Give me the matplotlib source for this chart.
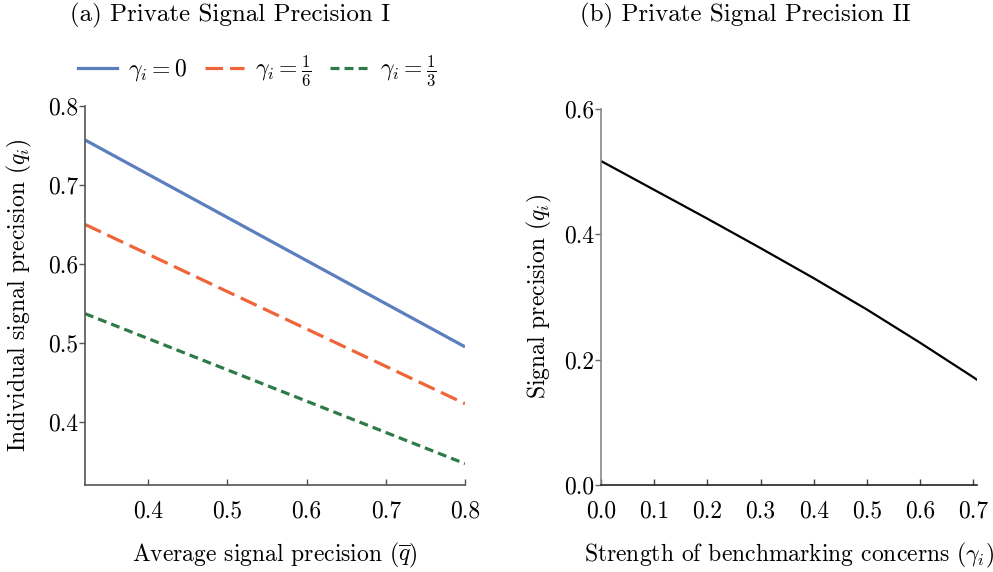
import matplotlib
matplotlib.use("Agg")
import matplotlib.pyplot as plt
from matplotlib.lines import Line2D

plt.rcParams['font.family'] = ['cmr10', 'DejaVu Serif']
plt.rcParams['mathtext.fontset'] = 'cm'
plt.rcParams['axes.formatter.use_mathtext'] = True
plt.rcParams['axes.unicode_minus'] = False

# ---- data panel (a) ----
qbar = [0.32, 0.80]
q_gamma0 = [0.757, 0.495]
q_gamma16 = [0.650, 0.423]
q_gamma13 = [0.537, 0.347]
labels_a = [r'$\gamma_i=0$', r'$\gamma_i=\frac{1}{6}$', r'$\gamma_i=\frac{1}{3}$']

# ---- data panel (b) ----
gamma = [0.0, 0.1, 0.2, 0.3, 0.4, 0.5, 0.6, 0.7, 0.707]
q_b = [0.517, 0.471, 0.425, 0.378, 0.330, 0.280, 0.227, 0.172, 0.168]

xticks_a = [0.4, 0.5, 0.6, 0.7, 0.8]
yticks_a = [0.4, 0.5, 0.6, 0.7, 0.8]
xticks_b = [0.0, 0.1, 0.2, 0.3, 0.4, 0.5, 0.6, 0.7]
yticks_b = [0.0, 0.2, 0.4, 0.6]

W, H = 993, 572
fig = plt.figure(figsize=(W / 100, H / 100), dpi=100)

FS = 17
blue = '#5b7fbe'
orange = '#f0643a'
green = '#2e7b48'

ax1 = fig.add_axes([85 / W, 1 - 485 / H, 380 / W, 379 / H])
ax1.plot(qbar, q_gamma0, color=blue, lw=2.3, solid_capstyle='butt')
ax1.plot(qbar, q_gamma16, color=orange, lw=2.3, dashes=(5.5, 2.2))
ax1.plot(qbar, q_gamma13, color=green, lw=2.3, dashes=(2.8, 1.6))
ax1.set_xlim(0.32, 0.80)
ax1.set_ylim(0.32, 0.80)
ax1.set_xticks(xticks_a)
ax1.set_yticks(yticks_a)
ax1.set_xticklabels([f'{v:.1f}' for v in xticks_a])
ax1.set_yticklabels([f'{v:.1f}' for v in yticks_a])
for s in ['top', 'right']:
    ax1.spines[s].set_visible(False)
for s in ['left', 'bottom']:
    ax1.spines[s].set_color('#555555')
    ax1.spines[s].set_linewidth(1.2)
ax1.tick_params(axis='x', direction='in', length=4, width=1, color='#555555', pad=11, labelsize=FS)
ax1.tick_params(axis='y', direction='out', length=4, width=1, color='#555555', pad=1, labelsize=FS)
ax1.set_xlabel(r'Average signal precision ($\overline{q}$)', fontsize=FS)
ax1.set_ylabel(r'Individual signal precision ($q_i$)', fontsize=FS)
ax1.xaxis.set_label_coords(0.5, -0.148)
ax1.yaxis.set_label_coords(-0.134, 0.5)

handles = [Line2D([], [], color=blue, lw=2.3),
           Line2D([], [], color=orange, lw=2.3, dashes=(5.5, 2.2)),
           Line2D([], [], color=green, lw=2.3, dashes=(2.8, 1.6))]
fig.legend(handles, labels_a, loc='center', bbox_to_anchor=(257 / W, 1 - 71 / H),
           ncol=3, frameon=False, fontsize=FS, handlelength=1.65, columnspacing=0.8,
           handletextpad=0.45)

ax2 = fig.add_axes([601 / W, 1 - 485 / H, 376 / W, 376 / H])
ax2.plot(gamma, q_b, color='black', lw=1.6)
ax2.set_xlim(0.0, 0.707)
ax2.set_ylim(0.0, 0.6)
ax2.set_xticks(xticks_b)
ax2.set_yticks(yticks_b)
ax2.set_xticklabels([f'{v:.1f}' for v in xticks_b])
ax2.set_yticklabels([f'{v:.1f}' for v in yticks_b])
for s in ['top', 'right']:
    ax2.spines[s].set_visible(False)
ax2.spines['left'].set_color('#888888')
ax2.spines['left'].set_linewidth(1.2)
ax2.spines['bottom'].set_color('#222222')
ax2.spines['bottom'].set_linewidth(1.2)
ax2.tick_params(axis='x', direction='in', length=4, width=1, color='#444444', pad=11, labelsize=FS)
ax2.tick_params(axis='y', direction='out', length=4, width=1, color='#666666', pad=1, labelsize=FS)
ax2.set_xlabel(r'Strength of benchmarking concerns ($\gamma_i$)', fontsize=FS)
ax2.set_ylabel(r'Signal precision ($q_i$)', fontsize=FS)
ax2.xaxis.set_label_coords(0.5, -0.148)
ax2.yaxis.set_label_coords(-0.125, 0.5)

fig.text(230 / W, 1 - 15 / H, '(a) Private Signal Precision I', ha='center', va='center', fontsize=18)
fig.text(745 / W, 1 - 15 / H, '(b) Private Signal Precision II', ha='center', va='center', fontsize=18)

fig.savefig('out.png', dpi=100)
